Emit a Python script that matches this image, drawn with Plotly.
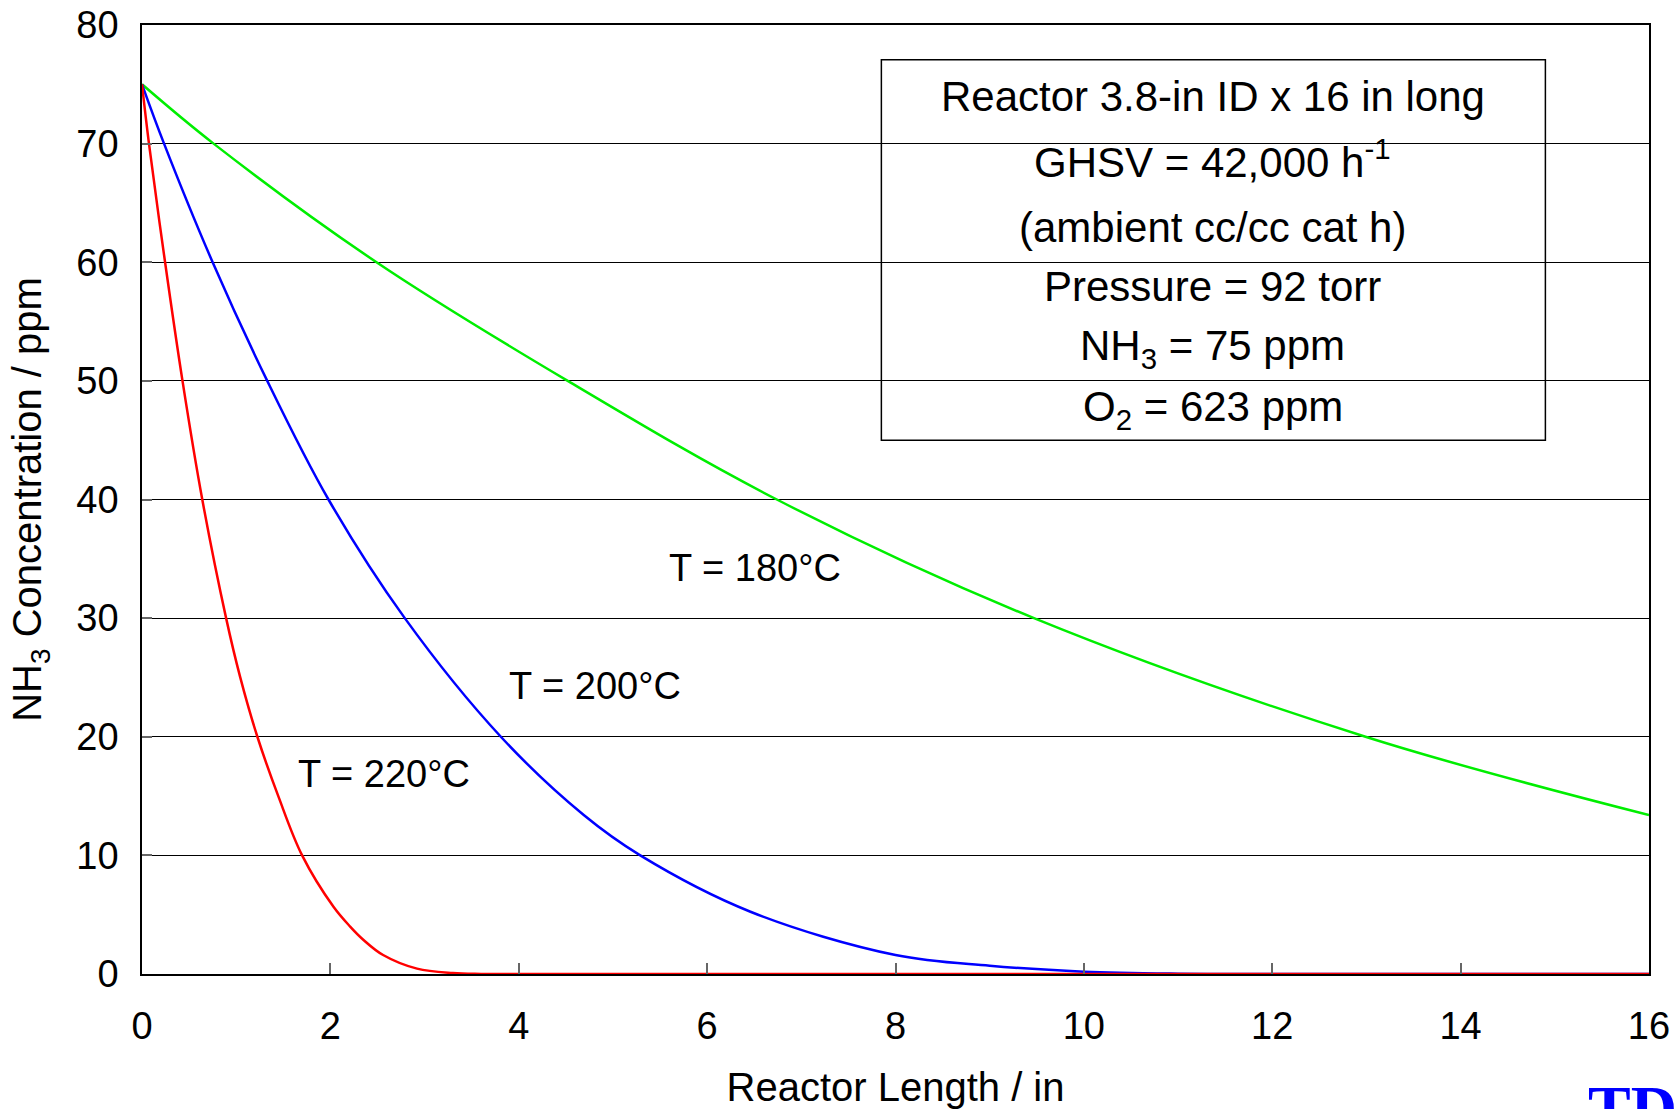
import plotly.graph_objects as go

# Data
x_220 = [0, 0.074, 0.245, 0.43, 0.64, 0.893, 1.041, 1.225, 1.449, 1.70, 2.033, 2.21, 2.352, 2.56, 2.92, 3.3, 3.6, 4.0, 16]
y_220 = [75, 70, 60, 50, 40, 30, 25.07, 20, 14.95, 10, 5.67, 4.0, 2.87, 1.6, 0.45, 0.08, 0.01, 0, 0]

x_200 = [0, 0.234, 0.75, 1.33, 1.98, 2.79, 3.81, 4.69, 5.29, 6.46, 8.0, 9.0, 10.0, 11.0, 12.0, 16]
y_200 = [75, 70, 60, 50, 40, 30, 20, 13.4, 10, 5.25, 1.6, 0.7, 0.2, 0.03, 0, 0]

x_180 = [0, 0.76, 2.49, 4.52, 6.74, 9.47, 12.99, 16]
y_180 = [75, 70, 60, 50, 40, 30, 20, 13.4]

x_ticks = [0, 2, 4, 6, 8, 10, 12, 14, 16]
y_ticks = [0, 10, 20, 30, 40, 50, 60, 70, 80]

box_lines = [
    "Reactor 3.8-in ID x 16 in long",
    "GHSV = 42,000 h<sup>-1</sup>",
    "(ambient cc/cc cat h)",
    "Pressure = 92 torr",
    "NH<sub>3</sub> = 75 ppm",
    "O<sub>2</sub> = 623 ppm",
]
box_line_y = [73.95, 68.72, 62.97, 57.95, 52.7, 47.55]

curve_labels = ["T = 180°C", "T = 200°C", "T = 220°C"]
curve_label_x = [6.51, 4.81, 2.57]
curve_label_y = [34.2, 24.3, 16.9]

FONT = "Arial, Liberation Sans, sans-serif"
FS = 38

fig = go.Figure()
for xs, ys, col in [(x_180, y_180, "#00ee00"), (x_200, y_200, "#0000ff"), (x_220, y_220, "#ff0000")]:
    fig.add_trace(go.Scatter(x=xs, y=ys, mode="lines",
                             line=dict(color=col, width=2.5, shape="spline", smoothing=1.0),
                             showlegend=False, hoverinfo="skip"))

for txt, yy in zip(box_lines, box_line_y):
    fig.add_annotation(x=11.37, y=yy, text=txt, showarrow=False,
                       font=dict(family=FONT, size=42, color="black"),
                       xanchor="center", yanchor="middle")

fig.add_shape(type="rect", x0=7.85, x1=14.9, y0=45.0, y1=77.07,
              line=dict(color="black", width=1.5), fillcolor="white", layer="below")

for txt, xx, yy in zip(curve_labels, curve_label_x, curve_label_y):
    fig.add_annotation(x=xx, y=yy, text=txt, showarrow=False,
                       font=dict(family=FONT, size=FS, color="black"),
                       xanchor="center", yanchor="middle")

fig.add_annotation(xref="paper", yref="paper", x=(1585 - 142) / 1506, y=-(1071 - 974) / 949,
                   text="<b>TDA</b>", showarrow=False, xanchor="left", yanchor="top",
                   font=dict(family="Liberation Serif, Times New Roman, serif", size=64, color="#0000ff"))

fig.update_layout(
    width=1679, height=1109,
    margin=dict(l=142, r=30, t=25, b=135),
    paper_bgcolor="white", plot_bgcolor="white",
    font=dict(family=FONT, size=FS, color="black"),
    xaxis=dict(range=[0, 16], tickvals=x_ticks, ticks="inside", ticklen=11, tickcolor="#666666",
               tickwidth=1.5, showgrid=False, showline=True, linecolor="black", linewidth=1.5,
               mirror=True, zeroline=False, ticklabelstandoff=18, automargin=False,
               tickfont=dict(family=FONT, size=FS),
               title=dict(text="Reactor Length / in", font=dict(family=FONT, size=40), standoff=28)),
    yaxis=dict(range=[0, 80], tickvals=y_ticks, ticks="inside", ticklen=10, tickcolor="#666666",
               tickwidth=1.5, showgrid=True, gridcolor="black", gridwidth=1, showline=True,
               linecolor="black", linewidth=1.5, mirror=True, zeroline=False, ticklabelstandoff=14,
               automargin=False, tickfont=dict(family=FONT, size=FS),
               title=dict(text="NH<sub>3</sub> Concentration / ppm", font=dict(family=FONT, size=40), standoff=22)),
)

fig.write_html("out.html", config={"displayModeBar": False},
               post_script="document.body.style.margin='0';document.body.style.overflow='hidden';")
